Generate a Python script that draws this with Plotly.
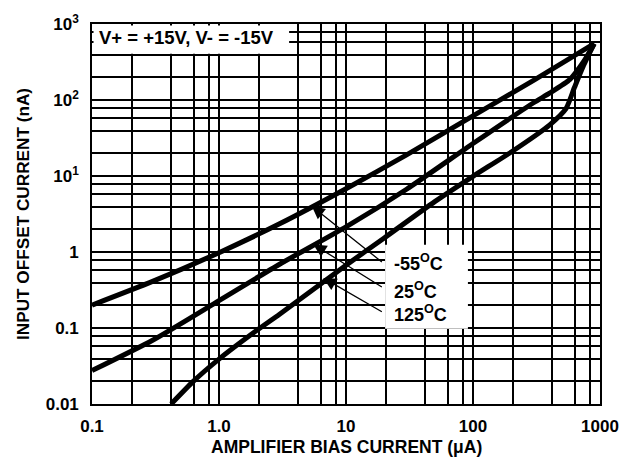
import plotly.graph_objects as go

# ---- data ----
bias_m55 = [0.1, 0.3, 1, 3, 10, 30, 100, 300, 900]
offset_m55 = [0.2, 0.41, 0.98, 2.35, 6.8, 19, 62, 181, 550]

bias_25 = [0.1, 0.3, 1, 3, 10, 30, 100, 300, 400, 580, 740, 900]
offset_25 = [0.0275, 0.069, 0.229, 0.69, 2.14, 6.7, 26.8, 92, 123, 187, 316, 550]

bias_125 = [0.42, 0.63, 1, 2, 3, 10, 20, 50, 100, 200, 400, 540, 630, 735, 900]
offset_125 = [0.01, 0.020, 0.039, 0.094, 0.152, 0.67, 1.53, 4.6, 9.9, 20.7, 46.8, 77, 147, 274, 550]

series_names = ["-55<sup>O</sup>C", "25<sup>O</sup>C", "125<sup>O</sup>C"]

x_major = [0.1, 1, 10, 100, 1000]
x_major_text = ["0.1", "1.0", "10", "100", "1000"]
y_major = [0.01, 0.1, 1, 10, 100, 1000]
y_major_text = ["0.01", "0.1", "1", "10<sup>1</sup>", "10<sup>2</sup>", "10<sup>3</sup>"]
x_grid_mult = [2.05, 4.2, 6.3, 8.4]
y_grid_mult = [2, 3.9, 5.8, 7.8]

FONT = "Liberation Sans, Arial, Helvetica, sans-serif"

x_minor = [d * m for d in x_major[:-1] for m in x_grid_mult]
y_minor = [d * m for d in y_major[:-1] for m in y_grid_mult]

fig = go.Figure()
for xs, ys, nm in [(bias_m55, offset_m55, series_names[0]),
                   (bias_25, offset_25, series_names[1]),
                   (bias_125, offset_125, series_names[2])]:
    fig.add_trace(go.Scatter(x=xs, y=ys, mode="lines", name=nm,
                             line=dict(color="black", width=5, shape="spline", smoothing=0.6),
                             showlegend=False, hoverinfo="skip"))

axis_common = dict(
    type="log", showgrid=True, gridcolor="black", gridwidth=1.6,
    showline=True, linecolor="black", linewidth=1.6, mirror=True,
    ticks="", zeroline=False,
    tickfont=dict(family=FONT, size=17, color="black", weight="bold"),
)
fig.update_xaxes(range=[-1, 3], tickmode="array", tickvals=x_major,
                 ticktext=x_major_text, ticklabelstandoff=6,
                 minor=dict(tickmode="array", tickvals=x_minor, showgrid=True,
                            gridcolor="black", gridwidth=1.6, ticks=""),
                 **axis_common)
fig.update_yaxes(range=[-2, 3], tickmode="array", tickvals=y_major,
                 ticktext=y_major_text, ticklabelstandoff=8,
                 minor=dict(tickmode="array", tickvals=y_minor, showgrid=True,
                            gridcolor="black", gridwidth=1.6, ticks=""),
                 **axis_common)

# white boxes covering the grid
fig.add_shape(type="rect", xref="paper", yref="paper", x0=0.003, x1=0.388,
              y0=0.922, y1=0.996, fillcolor="white", line=dict(width=0), layer="above")
fig.add_shape(type="rect", xref="paper", yref="paper", x0=0.577, x1=0.740,
              y0=0.198, y1=0.419, fillcolor="white", line=dict(width=0), layer="above")

fig.add_annotation(xref="paper", yref="paper", x=0.187, y=0.9635,
                   text="V+ = +15V, V- = -15V", showarrow=False,
                   font=dict(family=FONT, size=18.5, color="black", weight="bold"),
                   xanchor="center", yanchor="middle")

label_pos = [0.373, 0.2995, 0.238]
for nm, yp in zip(series_names, label_pos):
    fig.add_annotation(xref="paper", yref="paper", x=0.590, y=yp, text=nm,
                       showarrow=False, xanchor="left", yanchor="middle",
                       font=dict(family=FONT, size=18, color="black", weight="bold"))

# arrows (log10 axis units)
arrows = [((0.730, 0.604), (1.294, -0.147)),
          ((0.743, 0.100), (1.294, -0.473)),
          ((0.821, -0.342), (1.294, -0.798))]
for (tx, ty), (sx, sy) in arrows:
    fig.add_annotation(x=tx, y=ty, ax=sx, ay=sy, xref="x", yref="y",
                       axref="x", ayref="y", text="", showarrow=True,
                       arrowhead=2, arrowsize=2.0, arrowwidth=1.3, arrowcolor="black")

# axis titles
fig.add_annotation(xref="paper", yref="paper", x=0.5, y=0, yshift=-43,
                   text="AMPLIFIER BIAS CURRENT (\u03bcA)", showarrow=False,
                   xanchor="center", yanchor="middle",
                   font=dict(family=FONT, size=17.5, color="black", weight="bold"))
fig.add_annotation(xref="paper", yref="paper", x=0, y=0.5, xshift=-69,
                   text="INPUT OFFSET CURRENT (nA)", showarrow=False, textangle=-90,
                   xanchor="center", yanchor="middle",
                   font=dict(family=FONT, size=17.2, color="black", weight="bold"))

fig.update_layout(width=636, height=466, margin=dict(l=92, r=36, t=20, b=62),
                  plot_bgcolor="white", paper_bgcolor="white", hovermode=False)

fig.write_html("out.html", config={"displayModeBar": False},
               post_script="document.body.style.margin='0px';")
